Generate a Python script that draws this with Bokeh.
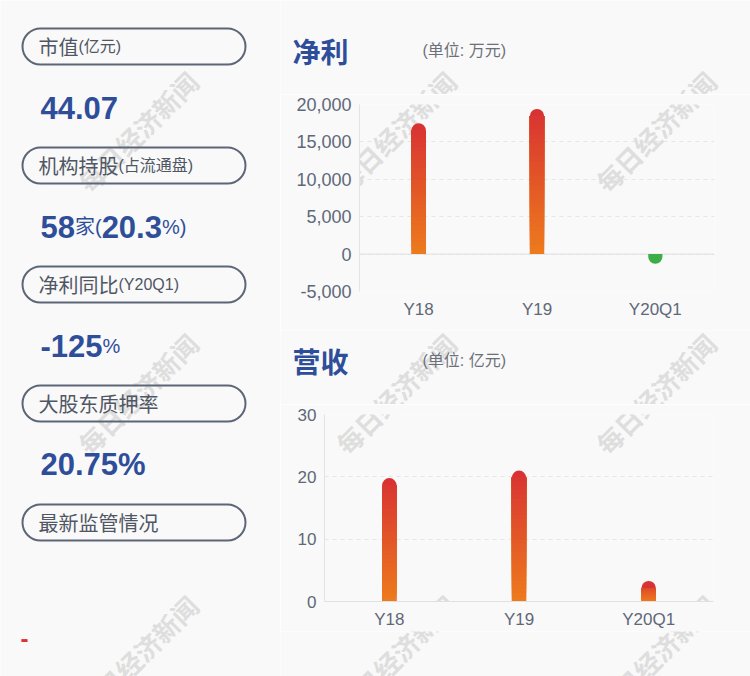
import math
from bokeh.plotting import figure
from bokeh.layouts import row, column
from bokeh.models import (Range1d, FactorRange, FixedTicker, NumeralTickFormatter,
                          Span, Label)
from bokeh.embed import file_html
from bokeh.resources import INLINE
from bokeh.core.properties import value

# ---------------- data ----------------
card_titles = ["市值", "机构持股", "净利同比", "大股东质押率", "最新监管情况"]
card_units = ["(亿元)", "(占流通盘)", "(Y20Q1)", "", ""]
market_cap = "44.07"
inst_count = "58"
inst_pct = "20.3"
profit_yoy = "-125"
pledge_ratio = "20.75"
regulation_note = "-"

periods = ["Y18", "Y19", "Y20Q1"]
net_profit = [17500, 19400, -1300]      # 万元
revenue = [19.8, 21.0, 3.3]             # 亿元
profit_ticks = [-5000, 0, 5000, 10000, 15000, 20000]
revenue_ticks = [0, 10, 20, 30]
profit_title = "净利"
profit_unit = "(单位: 万元)"
revenue_title = "营收"
revenue_unit = "(单位: 亿元)"
watermark = "每日经济新闻"

# ---------------- styles ----------------
H = 676
BG = "#f9f9f9"
BLUE = "#2e4e99"
CARD_TXT = "#4f5664"
PILL = "#5c6677"
AXIS_TXT = "#606878"
RED_TOP = (216, 50, 50)
ORANGE_BOT = (237, 123, 29)
GREEN = "#3dae47"
CJK = "Noto Sans CJK SC"
LAT = "Liberation Sans"
MIX = "Liberation Sans, Noto Sans CJK SC"
WM_COLOR = "#dedede"
WM_CENTERS = [(137, 131), (395, 131), (655, 131),
              (137, 393), (395, 393), (655, 393),
              (137, 655), (395, 655), (655, 655)]


def hexc(c):
    return "#%02x%02x%02x" % tuple(int(round(v)) for v in c)


def lerp(a, b, t):
    return hexc(tuple(a[i] + (b[i] - a[i]) * t for i in range(3)))


def text_width(s, size):
    w = 0.0
    for ch in s:
        if ord(ch) > 0x2E80:
            w += 1.0
        elif ch.isdigit():
            w += 0.556
        elif ch in ".,":
            w += 0.278
        elif ch in "()-":
            w += 0.333
        elif ch == "%":
            w += 0.889
        else:
            w += 0.6
    return w * size


def plain_fig(w, h):
    p = figure(width=w, height=h, x_range=Range1d(0, w), y_range=Range1d(0, h),
               output_backend="svg", toolbar_location=None,
               x_axis_location=None, y_axis_location=None, min_border=0,
               frame_align=False)
    p.grid.visible = False
    p.outline_line_color = None
    p.background_fill_color = BG
    p.border_fill_color = BG
    return p


def glyph_watermarks(p, gx0, gy0, h):
    p.text(x=[cx - gx0 for cx, cy in WM_CENTERS],
           y=[h - (cy - gy0) for cx, cy in WM_CENTERS],
           text=[watermark] * len(WM_CENTERS), angle=math.pi / 4,
           text_align="center", text_baseline="middle",
           text_font=value(CJK), text_font_size="26px", text_font_style="bold",
           text_color=WM_COLOR)


# ---------------- left panel ----------------
L = plain_fig(280, H)
glyph_watermarks(L, 0, 0, H)

pill_step = 119
for i, (t, u) in enumerate(zip(card_titles, card_units)):
    c = 46 + pill_step * i
    L.quad(left=[22], right=[245], top=[H - (c - 18)], bottom=[H - (c + 18)],
           border_radius=18, fill_color=None, line_color=PILL, line_width=2)
    L.text(x=[38], y=[H - c], text=[t], text_baseline="middle",
           text_font=value(CJK), text_font_size="20px", text_color=CARD_TXT)
    if u:
        L.text(x=[38 + 20 * len(t)], y=[H - c], text=[u], text_baseline="middle",
               text_font=value(MIX), text_font_size="16px", text_color=CARD_TXT)

BIG, SMALL = 31, 20
value_rows = [
    [(market_cap, BIG)],
    [(inst_count, BIG), ("家", SMALL), ("(", SMALL), (inst_pct, BIG), ("%)", SMALL)],
    [(profit_yoy, BIG), ("%", SMALL)],
    [(pledge_ratio + "%", BIG)],
]
for i, pieces in enumerate(value_rows):
    base = 46 + pill_step * i + 61
    x = 40
    for s, size in pieces:
        big = size == BIG
        L.text(x=[x], y=[H - base], text=[s], text_baseline="alphabetic",
               text_font=value(LAT if big else MIX), text_font_size=f"{size}px",
               text_font_style="bold" if big else "normal", text_color=BLUE)
        x += text_width(s, size)

L.text(x=[20], y=[H - 638], text=[regulation_note], text_baseline="alphabetic",
       text_font=value(LAT), text_font_size="24px", text_font_style="bold",
       text_color="#e03131")


# ---------------- strips (titles, bottom) ----------------
def strip_fig(h, gy0, title=None, unit=None, title_gy=None):
    p = plain_fig(470, h)
    glyph_watermarks(p, 280, gy0, h)
    if title:
        cy = h - (title_gy - gy0)
        p.text(x=[12], y=[cy], text=[title], text_baseline="middle",
               text_font=value(CJK), text_font_size="28px", text_font_style="bold",
               text_color=BLUE)
        p.text(x=[142], y=[cy], text=[unit], text_baseline="middle",
               text_font=value(MIX), text_font_size="16px", text_color="#6e7079")
    return p


T1 = strip_fig(94, 0, profit_title, profit_unit, 50)
T2 = strip_fig(74, 330, revenue_title, revenue_unit, 360)
B = strip_fig(45, 631)


# ---------------- charts ----------------
def chart(h, gy0, y0, y1, ticks, fmt, vals, mbl, mbr, mbt, mbb, bar_w,
          ylab_size, axis_line_bottom):
    p = figure(width=470, height=h, x_range=FactorRange(*periods),
               y_range=Range1d(y0, y1), output_backend="svg",
               toolbar_location=None, min_border_left=mbl, min_border_right=mbr,
               min_border_top=mbt, min_border_bottom=mbb, frame_align=False)
    p.background_fill_color = BG
    p.border_fill_color = BG
    p.outline_line_color = None
    p.xgrid.visible = False
    p.ygrid.ticker = FixedTicker(ticks=ticks)
    p.ygrid.grid_line_color = "#e6e6e6"
    p.ygrid.grid_line_dash = "4 4"
    p.yaxis.ticker = FixedTicker(ticks=ticks)
    if fmt:
        p.yaxis.formatter = NumeralTickFormatter(format=fmt)
    for ax in (p.xaxis, p.yaxis):
        ax.major_tick_line_color = None
        ax.minor_tick_line_color = None
        ax.major_tick_out = 0
        ax.major_label_text_font = LAT
        ax.major_label_text_color = AXIS_TXT
    p.yaxis.axis_line_color = "#e3e3e3"
    p.yaxis.major_label_text_font_size = ylab_size
    p.yaxis.major_label_standoff = 8
    p.xaxis.major_label_text_font_size = "17px"
    p.xaxis.major_label_standoff = 8
    p.xaxis.axis_line_color = "#e0e0e0" if axis_line_bottom else None
    p.add_layout(Span(location=0, dimension="width", line_color="#e0e0e0",
                      line_width=1, level="underlay"))

    fw = 470 - mbl - mbr
    fh = h - mbt - mbb
    # watermarks (under the bars)
    fl = 280 + mbl
    fb = gy0 + h - mbb
    for cx, cy in WM_CENTERS:
        dx = (cx - fl) / fw * len(periods)
        dy = y0 + (fb - cy) / fh * (y1 - y0)
        p.add_layout(Label(x=dx, y=dy, text=watermark, angle=math.pi / 4,
                           text_align="center", text_baseline="middle",
                           text_font=CJK, text_font_size="26px",
                           text_font_style="bold", text_color=WM_COLOR,
                           level="underlay"))

    cap = 7 * (y1 - y0) / fh
    for xcat, v in zip(periods, vals):
        if v >= 0:
            p.vbar(x=[xcat], bottom=[0], top=[v], width=bar_w,
                   fill_color=hexc(RED_TOP), line_color=None,
                   border_radius=(7, 7, 0, 0))
            upper = v - cap
            n = 30
            bots = [upper * k / n for k in range(n)]
            cols = [lerp(ORANGE_BOT, RED_TOP, (b + upper / (2 * n)) / v) for b in bots]
            p.vbar(x=[xcat] * n, bottom=bots, top=[upper] * n, width=bar_w,
                   fill_color=cols, line_color=None)
        else:
            p.vbar(x=[xcat], bottom=[v], top=[0], width=bar_w,
                   fill_color=GREEN, line_color=None, border_radius=(0, 0, 7, 7))
    return p


# C1 spans y 94..330 (frame 104..291); C2 spans y 404..631 (frame 414..601)
C1 = chart(236, 94, -5000, 20000, profit_ticks, "0,0", net_profit,
           79, 36, 10, 39, 0.12, "18px", False)
C2 = chart(227, 404, 0, 30, revenue_ticks, None, revenue,
           44, 37, 10, 30, 0.11, "17px", True)

layout = row(L, column(T1, C1, T2, C2, B, spacing=0), spacing=0)
open("out.html", "w").write(file_html(layout, INLINE))
